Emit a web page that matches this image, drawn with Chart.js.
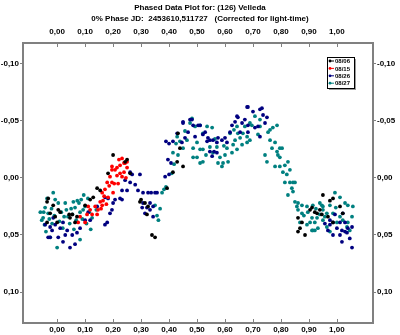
<!DOCTYPE html>
<html>
<head>
<meta charset="utf-8">
<script src="https://cdn.jsdelivr.net/npm/chart.js@4/dist/chart.umd.min.js"></script>
<style>
  html, body { margin: 0; padding: 0; background: #ffffff; }
</style>
</head>
<body>
<canvas id="chart" width="400" height="335"></canvas>
<script>
const TITLE_LINES = [
  'Phased Data Plot for: (126) Velleda',
  '0% Phase JD:  2453610,511727   (Corrected for light-time)',
];
const SERIES_LABELS = ['08/06', '08/15', '08/26', '08/27'];
const SERIES_COLORS = ['#000000', '#ff0000', '#000080', '#008080'];
const X_TICKS = [0, 0.1, 0.2, 0.3, 0.4, 0.5, 0.6, 0.7, 0.8, 0.9, 1.0];
const Y_TICKS = [-0.10, -0.05, 0, 0.05, 0.10];

// [phase, mag]
const s0806 = [
  [-0.036, 0.021], [-0.032, 0.018], [-0.036, 0.039], [-0.025, 0.031], [-0.014, 0.024],
  [-0.007, 0.034], [0.0, 0.039], [0.004, 0.028], [0.011, 0.030], [0.043, 0.032],
  [0.046, 0.035], [0.054, 0.032], [0.064, 0.039], [0.071, 0.034], [0.100, 0.024],
  [0.118, 0.019], [0.129, 0.017], [0.143, 0.009], [0.154, 0.011], [0.182, -0.004],
  [0.200, -0.020], [0.243, -0.014], [0.250, -0.016], [0.261, -0.004], [0.296, 0.021],
  [0.300, 0.019], [0.314, 0.022], [0.321, 0.032], [0.325, 0.025], [0.339, 0.050],
  [0.350, 0.052], [0.393, 0.009], [0.414, -0.005], [0.429, -0.014], [0.432, -0.039],
  [0.439, -0.026], [0.450, -0.010], [0.861, 0.035], [0.861, 0.047], [0.868, 0.044],
  [0.875, 0.039], [0.886, 0.050], [0.904, 0.028], [0.911, 0.026], [0.921, 0.030],
  [0.929, 0.031], [0.939, 0.028], [0.946, 0.032], [0.950, 0.015], [0.968, 0.034],
  [0.975, 0.020], [0.986, 0.018], [0.986, 0.039], [1.011, 0.025], [1.021, 0.031],
];

const s0815 = [
  [0.075, 0.039], [0.082, 0.034], [0.100, 0.039], [0.107, 0.032], [0.111, 0.025],
  [0.118, 0.028], [0.125, 0.032], [0.136, 0.025], [0.143, 0.032], [0.146, 0.028],
  [0.154, 0.021], [0.157, 0.027], [0.161, 0.013], [0.161, 0.024], [0.164, 0.020],
  [0.168, 0.016], [0.171, 0.010], [0.176, 0.023], [0.179, 0.004], [0.182, 0.017],
  [0.186, 0.007], [0.189, -0.001], [0.196, 0.004], [0.196, -0.007], [0.196, -0.010],
  [0.200, 0.013], [0.204, 0.005], [0.207, -0.007], [0.214, -0.002], [0.214, -0.009],
  [0.218, 0.005], [0.221, -0.016], [0.225, -0.004], [0.225, -0.011], [0.232, -0.001],
  [0.232, -0.017], [0.239, -0.005], [0.239, -0.013], [0.243, -0.013], [0.246, 0.000],
  [0.250, -0.009], [0.250, -0.014],
];

const s0826 = [
  [-0.043, 0.041], [-0.032, 0.052], [-0.025, 0.043], [-0.025, 0.052], [-0.018, 0.046],
  [-0.014, 0.035], [-0.007, 0.041], [0.004, 0.052], [0.011, 0.044], [0.021, 0.039],
  [0.021, 0.056], [0.029, 0.050], [0.036, 0.046], [0.046, 0.061], [0.054, 0.050],
  [0.064, 0.058], [0.071, 0.048], [0.082, 0.044], [0.100, 0.037], [0.111, 0.030],
  [0.118, 0.037], [0.143, 0.025], [0.171, 0.041], [0.171, 0.017], [0.179, 0.039],
  [0.182, 0.018], [0.189, 0.031], [0.196, 0.028], [0.200, 0.022], [0.207, 0.019],
  [0.225, 0.018], [0.232, 0.011], [0.232, 0.019], [0.243, 0.002], [0.250, 0.011],
  [0.261, 0.004], [0.261, -0.005], [0.268, -0.003], [0.279, 0.006], [0.289, 0.011],
  [0.296, -0.003], [0.304, 0.026], [0.307, 0.013], [0.307, 0.022], [0.314, 0.031],
  [0.321, 0.026], [0.325, 0.013], [0.332, 0.028], [0.332, 0.022], [0.336, 0.013],
  [0.343, 0.034], [0.343, 0.025], [0.350, 0.013], [0.357, 0.013],
  [0.386, -0.001], [0.389, -0.032], [0.396, -0.016], [0.400, -0.030], [0.400, -0.003],
  [0.407, -0.013], [0.414, -0.032], [0.429, -0.039], [0.446, -0.031], [0.450, -0.048],
  [0.450, -0.049], [0.457, -0.035], [0.475, -0.051], [0.482, -0.051], [0.486, -0.046],
  [0.504, -0.046], [0.511, -0.046], [0.521, -0.038], [0.536, -0.032], [0.539, -0.035],
  [0.546, -0.023], [0.546, -0.033], [0.554, -0.019], [0.557, -0.033], [0.561, -0.023],
  [0.571, -0.022], [0.571, -0.031], [0.575, -0.035], [0.589, -0.033], [0.600, -0.035],
  [0.607, -0.031], [0.618, -0.040], [0.625, -0.046], [0.636, -0.049], [0.643, -0.054],
  [0.646, -0.053], [0.654, -0.040], [0.661, -0.048], [0.671, -0.051], [0.679, -0.062],
  [0.682, -0.062], [0.682, -0.046], [0.682, -0.040], [0.700, -0.058], [0.707, -0.044],
  [0.718, -0.045], [0.725, -0.060], [0.725, -0.036], [0.732, -0.061], [0.736, -0.055],
  [0.743, -0.048], [0.750, -0.053], [0.468, -0.040], [0.493, -0.036], [0.529, -0.040],
  [0.957, 0.040], [0.968, 0.046], [0.975, 0.037], [0.975, 0.041], [0.986, 0.039],
  [0.986, 0.050], [0.993, 0.032], [1.000, 0.044], [1.011, 0.039], [1.011, 0.050],
  [1.018, 0.046], [1.018, 0.056], [1.021, 0.031], [1.029, 0.039], [1.029, 0.047],
  [1.036, 0.048], [1.039, 0.044], [1.046, 0.053], [1.054, 0.043], [1.054, 0.061],
];

const s0827 = [
  [-0.060, 0.030], [-0.055, 0.037], [-0.050, 0.035], [-0.045, 0.041], [-0.043, 0.026],
  [-0.040, 0.047], [-0.036, 0.018], [-0.032, 0.031], [-0.028, 0.036], [-0.025, 0.052],
  [-0.020, 0.027], [-0.014, 0.013], [-0.010, 0.033], [-0.007, 0.019], [0.000, 0.061],
  [0.004, 0.022], [0.008, 0.038], [0.015, 0.030], [0.020, 0.044], [0.029, 0.022],
  [0.033, 0.028], [0.039, 0.034], [0.045, 0.040], [0.050, 0.027], [0.055, 0.032],
  [0.060, 0.045], [0.064, 0.026], [0.068, 0.037], [0.072, 0.020], [0.078, 0.022],
  [0.082, 0.030], [0.082, 0.054], [0.086, 0.019], [0.090, 0.036], [0.095, 0.015],
  [0.100, 0.025], [0.105, 0.040], [0.110, 0.018], [0.115, 0.030], [0.120, 0.045],
  [0.125, 0.035], [0.140, 0.028], [-0.048, 0.030], [-0.018, 0.040], [0.025, 0.034],
  [0.058, 0.021], [0.093, 0.028],
  [0.350, 0.024], [0.357, 0.033], [0.362, 0.037], [0.368, 0.027], [0.375, 0.013],
  [0.382, 0.010], [0.389, 0.008], [0.410, -0.004], [0.414, -0.022], [0.418, -0.012],
  [0.425, -0.030], [0.429, -0.036], [0.432, -0.020], [0.439, -0.032],
  [0.450, -0.026], [0.464, -0.033], [0.475, -0.048], [0.486, -0.026], [0.486, -0.018],
  [0.493, -0.045], [0.500, -0.031], [0.500, -0.018], [0.511, -0.046], [0.511, -0.025],
  [0.511, -0.013], [0.521, -0.039], [0.521, -0.025], [0.521, -0.014], [0.536, -0.045],
  [0.546, -0.027], [0.554, -0.044], [0.557, -0.022], [0.571, -0.027], [0.575, -0.013],
  [0.582, -0.018], [0.589, -0.010], [0.593, -0.013], [0.600, -0.020], [0.607, -0.026],
  [0.611, -0.014], [0.618, -0.039], [0.625, -0.022], [0.629, -0.029], [0.636, -0.033],
  [0.643, -0.045], [0.643, -0.025], [0.646, -0.039], [0.654, -0.035], [0.661, -0.029],
  [0.664, -0.039], [0.671, -0.045], [0.679, -0.031], [0.457, -0.041], [0.482, -0.052],
  [0.532, -0.020], [0.564, -0.034], [0.596, -0.028], [0.632, -0.042],
  [0.679, -0.036], [0.689, -0.033], [0.689, -0.048], [0.696, -0.046], [0.707, -0.054],
  [0.718, -0.038], [0.725, -0.051], [0.725, -0.045], [0.743, -0.020], [0.750, -0.014],
  [0.754, -0.040], [0.761, -0.033], [0.761, -0.042], [0.768, -0.026], [0.771, -0.044],
  [0.779, -0.031], [0.779, -0.010], [0.786, -0.046], [0.786, -0.023], [0.789, -0.020],
  [0.796, -0.018], [0.796, -0.010], [0.796, -0.026], [0.804, -0.026], [0.807, -0.005],
  [0.814, -0.011], [0.814, 0.004], [0.821, -0.003], [0.825, -0.014], [0.825, 0.015],
  [0.832, 0.004], [0.832, -0.007], [0.839, 0.009], [0.843, 0.012], [0.843, 0.004],
  [0.850, 0.004], [0.850, 0.021], [0.857, 0.025], [0.861, 0.028], [0.861, 0.022],
  [0.868, 0.039], [0.875, 0.031], [0.875, 0.024], [0.893, 0.041], [0.893, 0.025],
  [0.896, 0.030], [0.904, 0.039], [0.911, 0.035], [0.911, 0.046], [0.914, 0.024],
  [0.914, 0.046], [0.921, 0.039], [0.921, 0.046], [0.929, 0.035], [0.932, 0.044],
  [0.939, 0.022], [0.939, 0.032], [0.946, 0.024], [0.950, 0.037], [0.950, 0.025],
  [0.950, 0.028], [0.964, 0.031], [0.964, 0.043], [0.975, 0.024], [0.975, 0.047],
  [0.986, 0.031], [0.993, 0.013], [1.000, 0.039], [1.011, 0.017], [1.011, 0.034],
  [1.021, 0.037], [1.029, 0.022], [1.036, 0.043], [1.039, 0.024], [1.039, 0.039],
  [1.046, 0.046], [1.054, 0.034], [1.057, 0.025], [0.882, 0.033], [0.925, 0.027],
  [0.957, 0.034], [0.996, 0.026],
];

const SERIES_DATA = [s0806, s0815, s0826, s0827];

const FONT = '"Liberation Sans", Arial, sans-serif';
const AXIS_GRAY = '#808080';

function fmt(value) {
  return value.toFixed(2).replace('.', ',');
}

function xAxis(position, height, padding) {
  return {
    type: 'linear',
    position,
    min: -0.122,
    max: 1.129,
    afterBuildTicks(scale) {
      scale.ticks = X_TICKS.map((value) => ({ value }));
    },
    afterFit(scale) {
      scale.height = height;
    },
    ticks: {
      color: '#000000',
      padding,
      maxRotation: 0,
      autoSkip: false,
      font: { family: FONT, size: 8, weight: 'bold' },
      callback: (value) => fmt(value),
    },
    grid: { display: true, drawOnChartArea: false, drawTicks: false },
    border: { color: AXIS_GRAY, width: 2 },
  };
}

function yAxis(position, width) {
  return {
    type: 'linear',
    position,
    reverse: true,
    min: -0.118,
    max: 0.127,
    afterBuildTicks(scale) {
      scale.ticks = Y_TICKS.map((value) => ({ value }));
    },
    afterFit(scale) {
      scale.width = width;
    },
    ticks: {
      color: '#000000',
      padding: 1,
      autoSkip: false,
      font: { family: FONT, size: 8, weight: 'bold' },
      callback: (value) => fmt(value),
    },
    grid: { display: true, drawOnChartArea: false, drawTicks: true, tickLength: 3, color: AXIS_GRAY },
    border: { color: AXIS_GRAY, width: 2 },
  };
}

// small tick marks pointing into the plot on the top and bottom axes
const innerTicks = {
  id: 'innerTicks',
  afterDraw(chart) {
    const { ctx, chartArea, scales } = chart;
    ctx.save();
    ctx.strokeStyle = AXIS_GRAY;
    ctx.lineWidth = 1;
    for (const value of X_TICKS) {
      const px = Math.round(scales.x.getPixelForValue(value)) + 0.5;
      ctx.beginPath();
      ctx.moveTo(px, chartArea.top);
      ctx.lineTo(px, chartArea.top + 4);
      ctx.moveTo(px, chartArea.bottom);
      ctx.lineTo(px, chartArea.bottom - 4);
      ctx.stroke();
    }
    ctx.restore();
  },
};

// boxed legend inside the upper right of the plot
const boxLegend = {
  id: 'boxLegend',
  afterDraw(chart) {
    const { ctx, chartArea } = chart;
    const left = chartArea.right - 46;
    const top = chartArea.top + 14;
    const width = 27;
    const height = 31;
    ctx.save();
    ctx.fillStyle = '#9a9a9a';
    ctx.fillRect(left + 2, top + 2, width, height);
    ctx.fillStyle = '#ffffff';
    ctx.fillRect(left, top, width, height);
    ctx.strokeStyle = '#000000';
    ctx.lineWidth = 1;
    ctx.strokeRect(left + 0.5, top + 0.5, width, height);
    ctx.font = `bold 6px ${FONT}`;
    ctx.textBaseline = 'middle';
    chart.data.datasets.forEach((dataset, index) => {
      const rowY = top + 4 + index * 7.4;
      ctx.strokeStyle = dataset.backgroundColor;
      ctx.beginPath();
      ctx.moveTo(left + 2, rowY);
      ctx.lineTo(left + 7, rowY);
      ctx.stroke();
      ctx.fillStyle = dataset.backgroundColor;
      ctx.beginPath();
      ctx.arc(left + 3, rowY, 1.4, 0, Math.PI * 2);
      ctx.fill();
      ctx.fillStyle = '#000000';
      ctx.fillText(dataset.label, left + 8, rowY + 0.5);
    });
    ctx.restore();
  },
};

new Chart(document.getElementById('chart'), {
  type: 'scatter',
  data: {
    datasets: SERIES_DATA.map((points, index) => ({
      label: SERIES_LABELS[index],
      data: points.map(([x, y]) => ({ x, y })),
      backgroundColor: SERIES_COLORS[index],
      borderWidth: 0,
      pointRadius: 1.9,
      xAxisID: 'x',
      yAxisID: 'y',
    })),
  },
  options: {
    responsive: false,
    animation: false,
    layout: { padding: { top: 0, left: 0, right: 0, bottom: 0 } },
    plugins: {
      legend: { display: false },
      tooltip: { enabled: false },
      title: {
        display: true,
        text: TITLE_LINES,
        color: '#000000',
        font: { family: FONT, size: 8, weight: 'bold', lineHeight: 1.375 },
        padding: { top: 2, bottom: 0 },
      },
    },
    scales: {
      x: xAxis('bottom', 12, 2),
      x2: xAxis('top', 19, 6),
      y: yAxis('left', 23),
      y2: yAxis('right', 27),
    },
  },
  plugins: [innerTicks, boxLegend],
});
</script>
</body>
</html>
